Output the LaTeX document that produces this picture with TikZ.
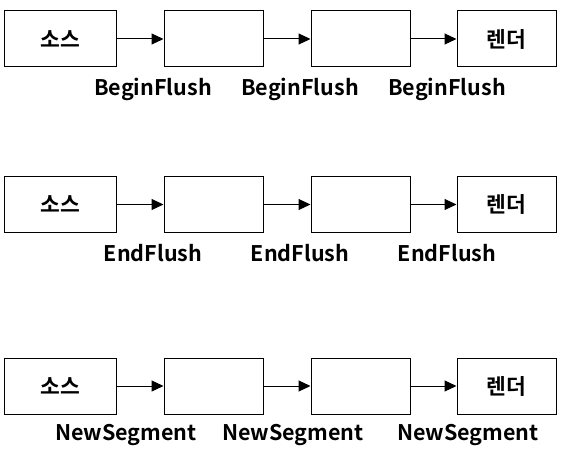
\documentclass[tikz,border=0pt]{standalone}
\usepackage{fontspec}
\setmainfont{Noto Sans CJK KR}[BoldFont={* Bold}]
\usetikzlibrary{arrows.meta}
\begin{document}
\begin{tikzpicture}[x=1pt,y=-1pt,
  box/.style={draw=black,line width=1pt,minimum width=#1,minimum height=56pt,inner sep=0pt,anchor=north west},
  box/.default=99pt,
  lbl/.style={font=\fontsize{21.5}{25}\selectfont\bfseries,inner sep=0pt},
  arr/.style={line width=1pt,-{Triangle[length=12pt,width=11pt]}}]
\useasboundingbox (0,0) rectangle (565,457);
% row 1
\node[box=112pt,lbl] (a1) at (3.5,10.5) {소스};
\node[box] (b1) at (163.5,10.5) {};
\node[box] (c1) at (310.5,10.5) {};
\node[box,lbl] (d1) at (456.5,10.5) {렌더};
\draw[arr] (a1) -- (b1);
\draw[arr] (b1) -- (c1);
\draw[arr] (c1) -- (d1);
\node[lbl] (l11) at (153,89) {BeginFlush};
\node[lbl] (l12) at (300,89) {BeginFlush};
\node[lbl] (l13) at (447,89) {BeginFlush};
% row 2
\node[box=112pt,lbl] (a2) at (3.5,176) {소스};
\node[box] (b2) at (163.5,176) {};
\node[box] (c2) at (310.5,176) {};
\node[box,lbl] (d2) at (456.5,176) {렌더};
\draw[arr] (a2) -- (b2);
\draw[arr] (b2) -- (c2);
\draw[arr] (c2) -- (d2);
\node[lbl] (l21) at (153,253) {EndFlush};
\node[lbl] (l22) at (300,253) {EndFlush};
\node[lbl] (l23) at (447,253) {EndFlush};
% row 3
\node[box=112pt,lbl] (a3) at (3.5,357.5) {소스};
\node[box] (b3) at (163.5,357.5) {};
\node[box] (c3) at (310.5,357.5) {};
\node[box,lbl] (d3) at (456.5,357.5) {렌더};
\draw[arr] (a3) -- (b3);
\draw[arr] (b3) -- (c3);
\draw[arr] (c3) -- (d3);
\node[lbl] (l31) at (126,435) {NewSegment};
\node[lbl] (l32) at (293,435) {NewSegment};
\node[lbl] (l33) at (468,435) {NewSegment};
\end{tikzpicture}
\end{document}
